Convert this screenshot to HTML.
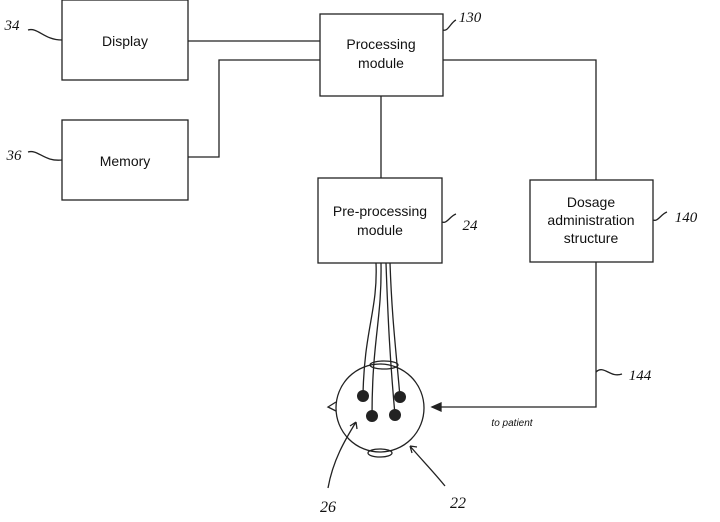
<!DOCTYPE html>
<html><head><style>body{margin:0;background:#fff}</style></head><body>
<svg width="720" height="517" xmlns="http://www.w3.org/2000/svg" font-family="Liberation Sans, sans-serif" fill="none" stroke="#222" stroke-width="1.3">
<rect x="62" y="0" width="126" height="80"/>
<rect x="62" y="120" width="126" height="80"/>
<rect x="320" y="14" width="123" height="82"/>
<rect x="318" y="178" width="124" height="85"/>
<rect x="530" y="180" width="123" height="82"/>
<path d="M188 41H320M188 157H219V60H320M381 96V178M443 60H596V180M596 262V407H432"/>
<path d="M432 407l9-4v8z" fill="#222"/>
<circle cx="380" cy="408" r="44"/>
<path d="M336 402l-8 5 8 4"/>
<ellipse cx="384" cy="365" rx="14" ry="4"/>
<ellipse cx="380" cy="453" rx="12" ry="4"/>
<path d="M376 263C378 310 364 330 363 396M381 263C382 320 372 340 372 416M386 263C388 320 390 360 395 415M390 263C392 320 396 350 400 397"/>
<g fill="#222" stroke="none"><circle cx="363" cy="396" r="6"/><circle cx="400" cy="397" r="6"/><circle cx="372" cy="416" r="6"/><circle cx="395" cy="415" r="6"/></g>
<path d="M328 488C333 460 345 440 356 422M356 422l-6 4M356 422l1 7"/>
<path d="M445 486C432 470 420 458 410 446M410 446l2 7M410 446l7 1"/>
<path d="M28 30c10-3 16 10 34 10M28 152c10-3 16 10 34 8M443 30c5 2 8-8 13-10M442 222c5 2 8-6 14-8M653 220c5 2 8-6 14-8M596 372c4-4 8-2 12 0s8 4 14 2"/>
<g fill="#111" stroke="none" font-size="14" text-anchor="middle">
<text x="125" y="46">Display</text>
<text x="125" y="166">Memory</text>
<text x="381" y="49">Processing</text><text x="381" y="68">module</text>
<text x="380" y="216">Pre-processing</text><text x="380" y="235">module</text>
<text x="591" y="207">Dosage</text><text x="591" y="225">administration</text><text x="591" y="243">structure</text>
<text x="512" y="426" font-size="10" font-style="italic">to patient</text>
<text x="12" y="30" font-family="Liberation Serif" font-style="italic" font-size="15">34</text>
<text x="14" y="160" font-family="Liberation Serif" font-style="italic" font-size="15">36</text>
<text x="470" y="22" font-family="Liberation Serif" font-style="italic" font-size="15">130</text>
<text x="470" y="230" font-family="Liberation Serif" font-style="italic" font-size="15">24</text>
<text x="686" y="222" font-family="Liberation Serif" font-style="italic" font-size="15">140</text>
<text x="640" y="380" font-family="Liberation Serif" font-style="italic" font-size="15">144</text>
<text x="328" y="512" font-family="Liberation Serif" font-style="italic" font-size="16">26</text>
<text x="458" y="508" font-family="Liberation Serif" font-style="italic" font-size="16">22</text>
</g>
</svg>
</body></html>
